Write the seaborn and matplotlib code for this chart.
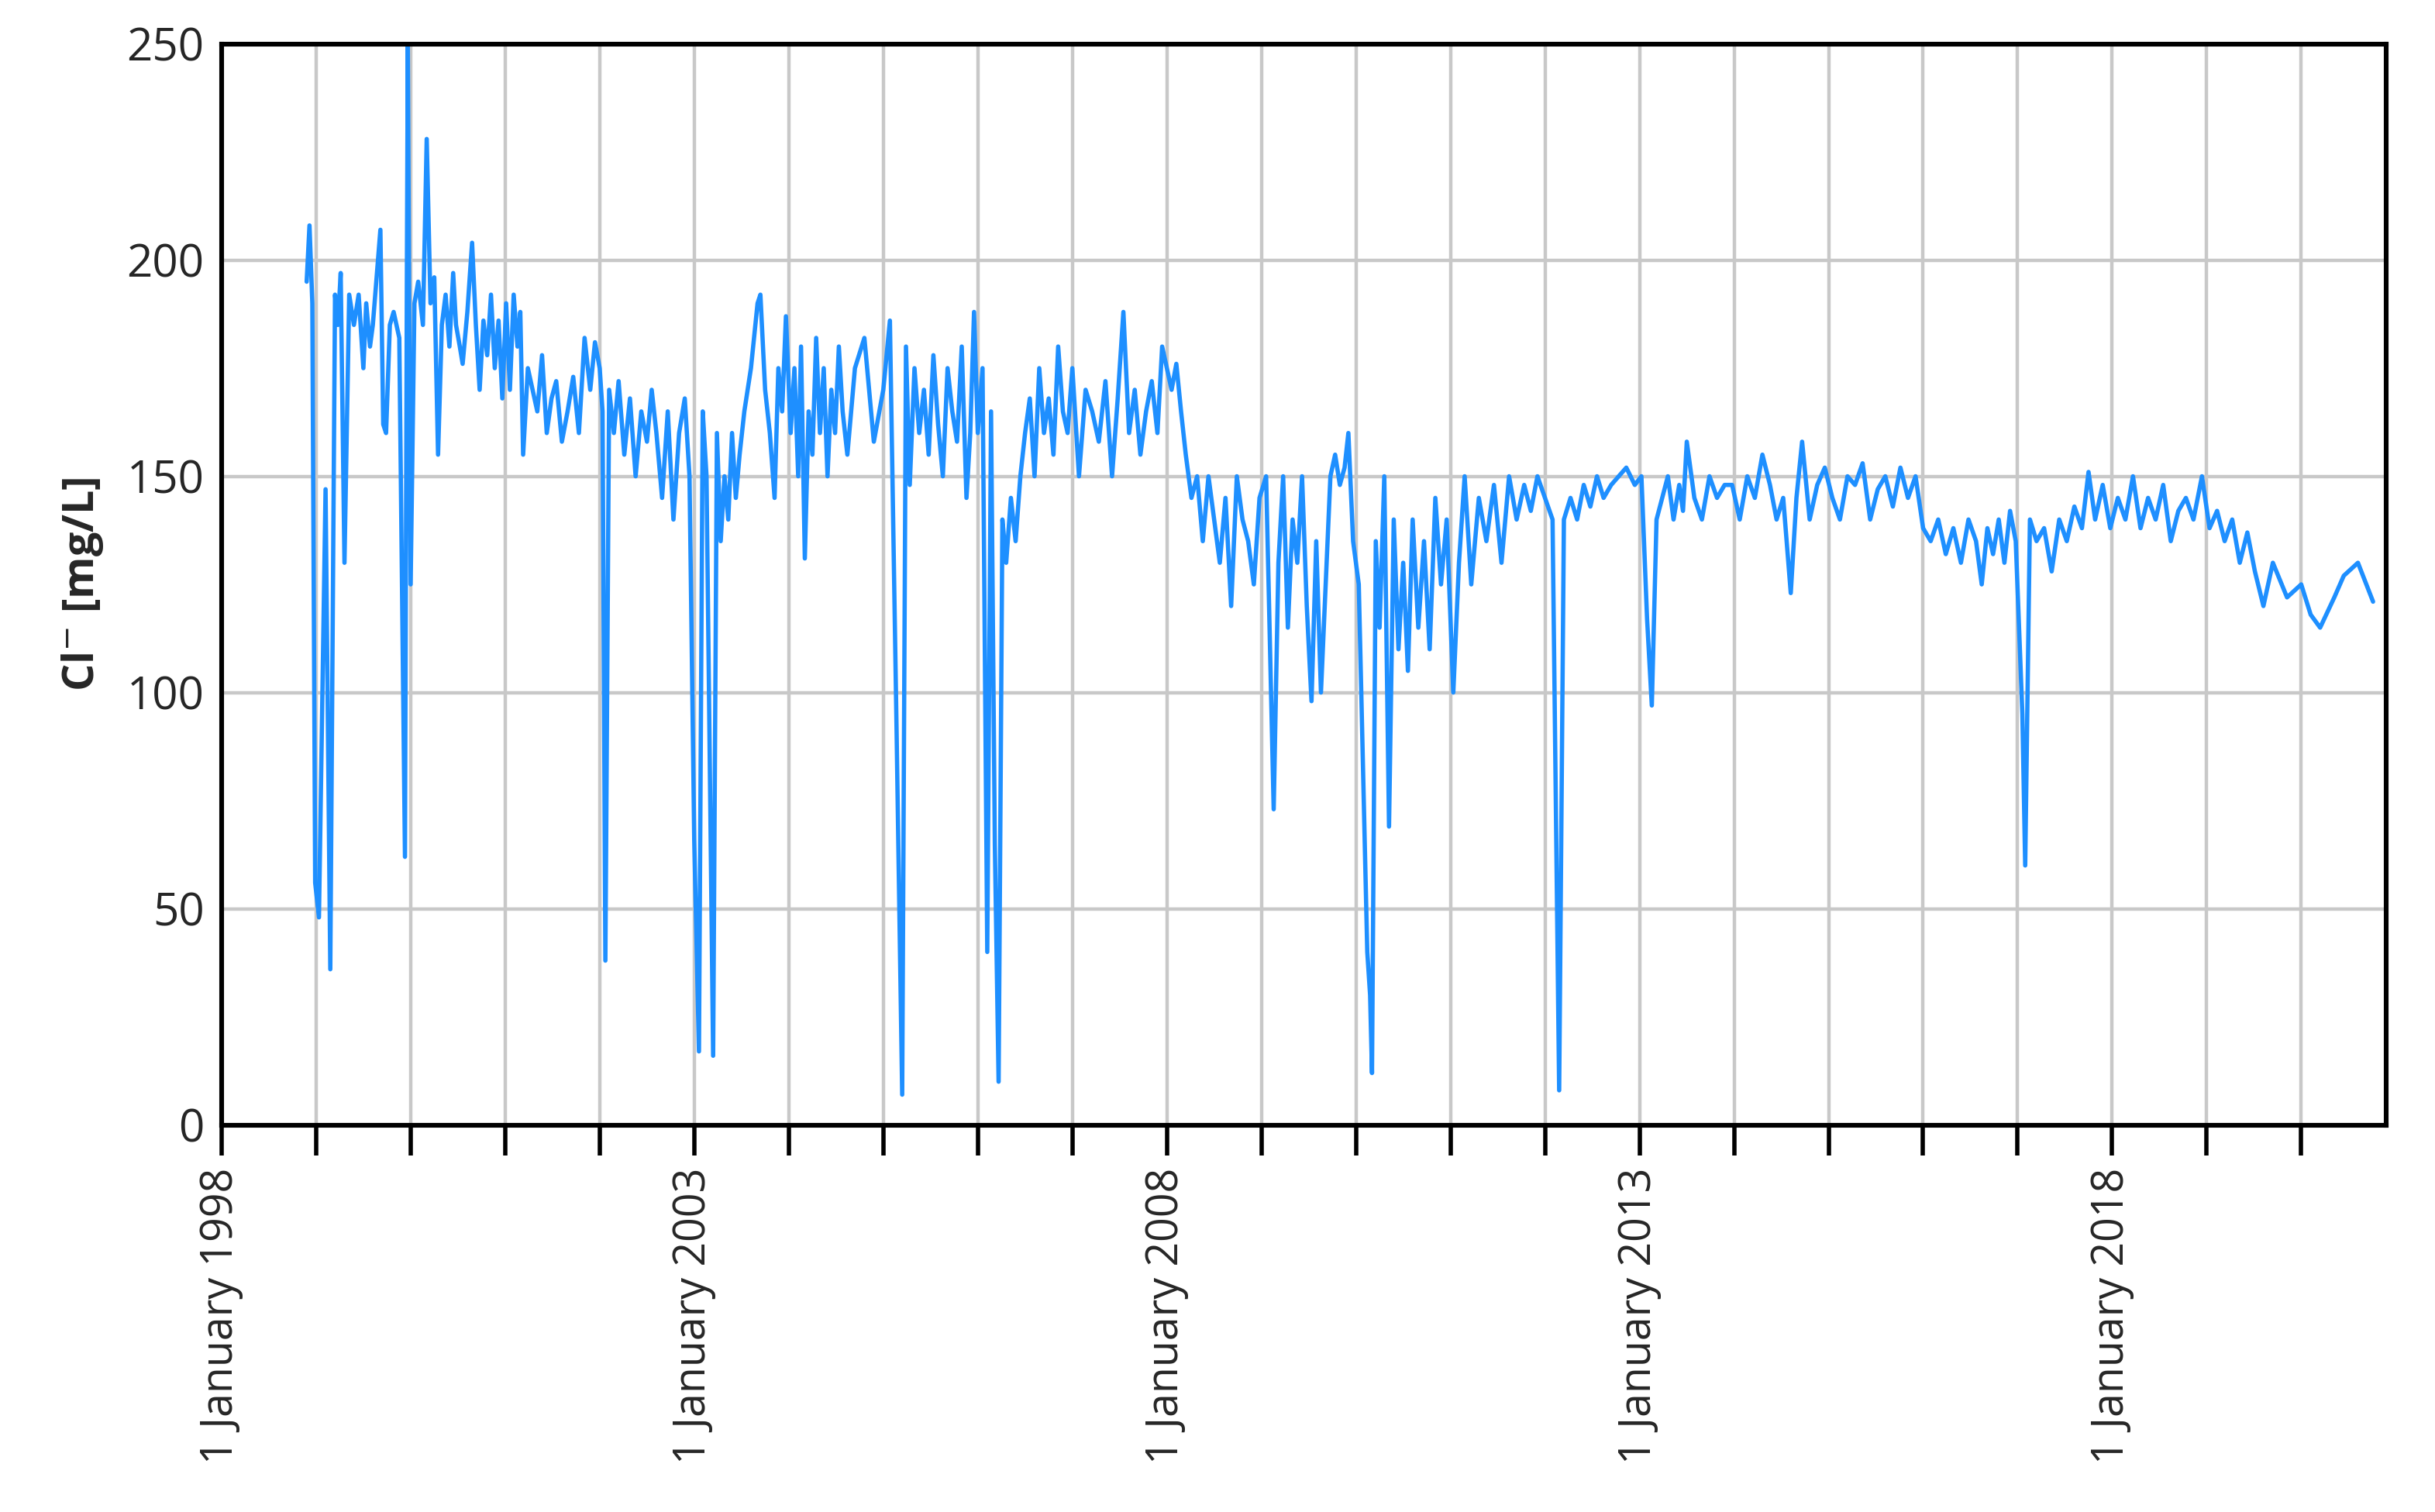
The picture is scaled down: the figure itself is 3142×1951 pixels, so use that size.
import matplotlib
matplotlib.use("Agg")
import matplotlib.pyplot as plt
import seaborn as sns
import pandas as pd

# decimal year of each sample (10 per line)
decimal_year = [
 1998.90,1998.93,1998.96,1998.99,1999.03,1999.10,1999.15,1999.20,1999.23,1999.26,
 1999.30,1999.35,1999.40,1999.45,1999.50,1999.53,1999.57,1999.60,1999.68,1999.71,
 1999.74,1999.78,1999.82,1999.88,1999.94,1999.96,1999.97,2000.00,2000.04,2000.08,
 2000.13,2000.17,2000.21,2000.25,2000.29,2000.33,2000.37,2000.41,2000.45,2000.48,
 2000.52,2000.55,2000.60,2000.65,2000.69,2000.73,2000.77,2000.81,2000.85,2000.89,
 2000.93,2000.97,2001.01,2001.05,2001.09,2001.13,2001.16,2001.19,2001.24,2001.29,
 2001.34,2001.39,2001.44,2001.49,2001.54,2001.60,2001.66,2001.72,2001.78,2001.84,
 2001.90,2001.95,2002.00,2002.03,2002.06,2002.10,2002.15,2002.20,2002.26,2002.32,
 2002.38,2002.44,2002.50,2002.55,2002.60,2002.66,2002.72,2002.78,2002.84,2002.90,
 2002.95,2003.00,2003.05,2003.09,2003.13,2003.20,2003.24,2003.28,2003.32,2003.36,
 2003.40,2003.44,2003.48,2003.53,2003.60,2003.67,2003.70,2003.75,2003.80,2003.85,
 2003.89,2003.93,2003.97,2004.02,2004.06,2004.10,2004.13,2004.17,2004.21,2004.25,
 2004.29,2004.33,2004.37,2004.41,2004.45,2004.49,2004.53,2004.57,2004.62,2004.70,
 2004.80,2004.90,2005.00,2005.07,2005.14,2005.20,2005.24,2005.28,2005.33,2005.38,
 2005.43,2005.48,2005.53,2005.58,2005.63,2005.68,2005.73,2005.78,2005.83,2005.88,
 2005.92,2005.96,2006.00,2006.05,2006.10,2006.14,2006.18,2006.22,2006.26,2006.30,
 2006.35,2006.40,2006.45,2006.50,2006.55,2006.60,2006.65,2006.70,2006.75,2006.80,
 2006.85,2006.90,2006.95,2007.00,2007.07,2007.14,2007.21,2007.28,2007.35,2007.42,
 2007.48,2007.54,2007.60,2007.66,2007.72,2007.78,2007.84,2007.90,2007.95,2008.00,
 2008.05,2008.10,2008.15,2008.20,2008.26,2008.32,2008.38,2008.44,2008.50,2008.56,
 2008.62,2008.68,2008.74,2008.80,2008.86,2008.92,2008.98,2009.05,2009.13,2009.18,
 2009.23,2009.28,2009.33,2009.38,2009.43,2009.48,2009.53,2009.58,2009.63,2009.68,
 2009.73,2009.78,2009.83,2009.88,2009.92,2009.97,2010.03,2010.12,2010.15,2010.17,
 2010.21,2010.25,2010.30,2010.35,2010.40,2010.45,2010.50,2010.55,2010.60,2010.66,
 2010.72,2010.78,2010.84,2010.90,2010.96,2011.03,2011.09,2011.15,2011.22,2011.30,
 2011.38,2011.46,2011.54,2011.62,2011.70,2011.78,2011.85,2011.92,2012.00,2012.08,
 2012.15,2012.20,2012.27,2012.34,2012.41,2012.48,2012.55,2012.62,2012.70,2012.78,
 2012.86,2012.95,2013.02,2013.08,2013.13,2013.18,2013.24,2013.30,2013.36,2013.42,
 2013.46,2013.50,2013.58,2013.66,2013.74,2013.82,2013.90,2013.98,2014.06,2014.14,
 2014.22,2014.30,2014.38,2014.45,2014.52,2014.60,2014.66,2014.72,2014.80,2014.88,
 2014.96,2015.04,2015.12,2015.20,2015.28,2015.36,2015.44,2015.52,2015.60,2015.68,
 2015.76,2015.84,2015.92,2016.00,2016.08,2016.16,2016.24,2016.32,2016.40,2016.48,
 2016.56,2016.62,2016.68,2016.74,2016.80,2016.86,2016.92,2016.98,2017.05,2017.08,
 2017.13,2017.20,2017.28,2017.36,2017.44,2017.52,2017.60,2017.68,2017.75,2017.82,
 2017.90,2017.98,2018.06,2018.14,2018.22,2018.30,2018.38,2018.46,2018.54,2018.62,
 2018.70,2018.78,2018.86,2018.95,2019.03,2019.11,2019.19,2019.27,2019.35,2019.43,
 2019.51,2019.60,2019.70,2019.85,2020.00,2020.10,2020.20,2020.35,2020.45,2020.60,
 2020.76,
]

# chloride concentration, mg/L (10 per line, aligned with decimal_year)
chloride_mg_l = [
 195,208,190,56,48,147,36,192,185,197,
 130,192,185,192,175,190,180,185,207,162,
 160,185,188,182,62,195,250,125,190,195,
 185,228,190,196,155,185,192,180,197,185,
 180,176,188,204,185,170,186,178,192,175,
 186,168,190,170,192,180,188,155,175,170,
 165,178,160,168,172,158,165,173,160,182,
 170,181,175,165,38,170,160,172,155,168,
 150,165,158,170,160,145,165,140,160,168,
 150,66,17,165,150,16,160,135,150,140,
 160,145,155,165,175,190,192,170,160,145,
 175,165,187,160,175,150,180,131,165,155,
 182,160,175,150,170,160,180,165,155,175,
 182,158,170,186,92,7,180,148,175,160,
 170,155,178,162,150,175,165,158,180,145,
 160,188,160,175,40,165,65,10,140,130,
 145,135,150,160,168,150,175,160,168,155,
 180,165,160,175,150,170,165,158,172,150,
 168,188,160,170,155,165,172,160,180,175,
 170,176,165,155,145,150,135,150,140,130,
 145,120,150,140,135,125,145,150,73,130,
 150,115,140,130,150,120,98,135,100,125,
 150,155,148,152,160,135,125,40,30,12,
 135,115,150,69,140,110,130,105,140,115,
 135,110,145,125,140,100,130,150,125,145,
 135,148,130,150,140,148,142,150,145,140,
 8,140,145,140,148,143,150,145,148,150,
 152,148,150,117,97,140,145,150,140,148,
 142,158,145,140,150,145,148,148,140,150,
 145,155,148,140,145,123,145,158,140,148,
 152,145,140,150,148,153,140,147,150,143,
 152,145,150,138,135,140,132,138,130,140,
 135,125,138,132,140,130,142,135,95,60,
 140,135,138,128,140,135,143,138,151,140,
 148,138,145,140,150,138,145,140,148,135,
 142,145,140,150,138,142,135,140,130,137,
 128,120,130,122,125,118,115,122,127,130,
 121,
]

year_ticks = list(range(1998, 2021))
labelled_years = [1998, 2003, 2008, 2013, 2018]

df = pd.DataFrame({"t": decimal_year, "cl": chloride_mg_l})

sns.set_theme(style="white")
plt.rcParams['font.family'] = ['Open Sans', 'DejaVu Sans']

fig = plt.figure(figsize=(15.71, 9.755), dpi=200)
ax = fig.add_axes([0.091, 0.256, 0.889, 0.715])
sns.lineplot(data=df, x="t", y="cl", ax=ax, color="#1E8FFF", linewidth=2.0,
             sort=False, estimator=None)

ax.set_xlim(1998, 2020.9)
ax.set_ylim(0, 250)
ax.set_yticks([0, 50, 100, 150, 200, 250])
ax.set_xticks(year_ticks)
ax.set_xticklabels([f"1 January {y}" if y in labelled_years else "" for y in year_ticks],
                   rotation=90, fontsize=20)
ax.tick_params(axis='y', labelsize=21, length=0, pad=8)
ax.tick_params(axis='x', length=14, width=2, direction='out', color='black', bottom=True, pad=6)
ax.grid(True, color="#C8C8C8", linewidth=1.6)
for s in ax.spines.values():
    s.set_color("black")
    s.set_linewidth(2.2)
ax.set_xlabel("")
ax.set_ylabel("Cl$^{-}$ [mg/L]", fontsize=20, fontweight="bold", labelpad=10)
fig.savefig("out.png", dpi=200)
